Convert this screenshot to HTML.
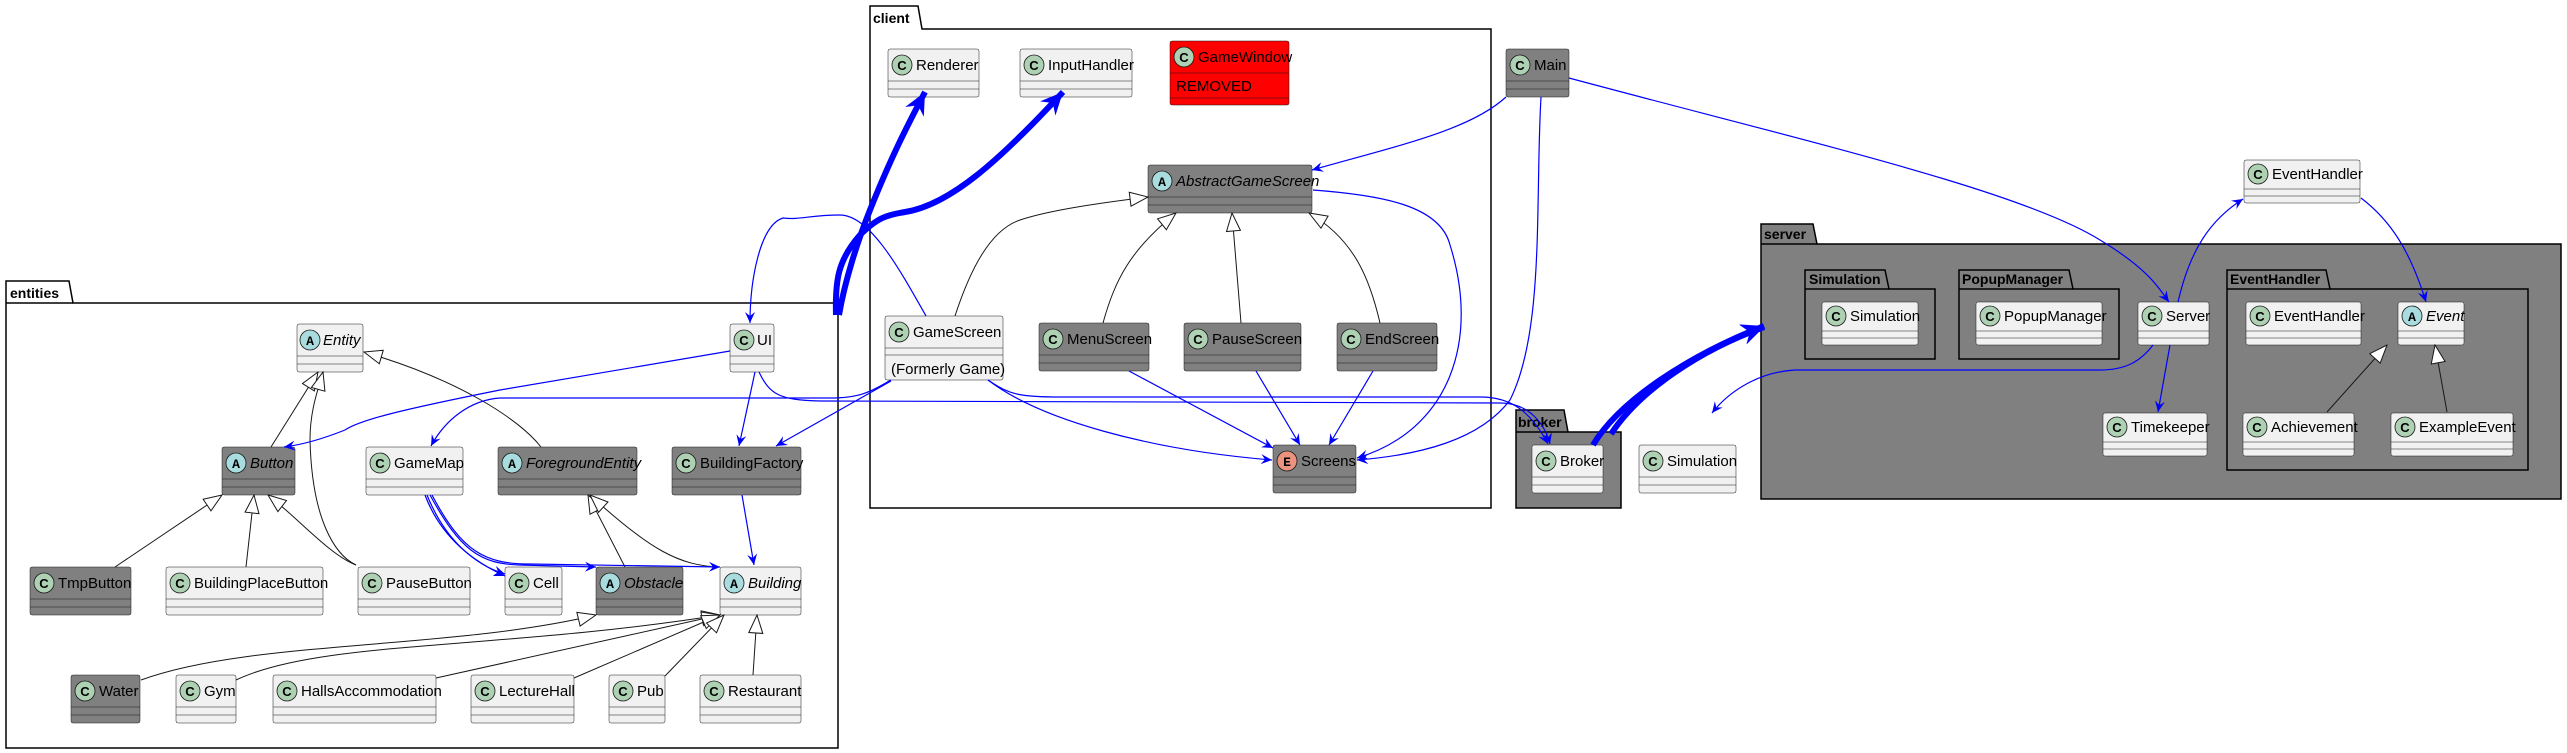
<!DOCTYPE html>
<html><head><meta charset="utf-8"><style>
html,body{margin:0;padding:0;background:#fff;}
svg{display:block;font-family:"Liberation Sans",sans-serif;}
.n{font-size:15px;fill:#000;}
.i{font-style:italic;}
.pk{font-size:15px;font-weight:bold;fill:#000;}
.bl{fill:none;stroke:#0000FF;stroke-width:1.2;}
.bk{fill:none;stroke:#181818;stroke-width:1;}
.th{fill:none;stroke:#0000FF;stroke-width:6;}
.lt{fill:#F1F1F1;stroke:#181818;stroke-width:0.5;}
.dk{fill:#808080;stroke:#181818;stroke-width:0.5;}
.sep{stroke:#181818;stroke-width:0.5;}
</style></head><body>
<svg width="2567" height="753" viewBox="0 0 2567 753" xmlns="http://www.w3.org/2000/svg">
<defs>
<marker id="ab" viewBox="0 0 12 12" refX="11" refY="6" markerWidth="12" markerHeight="12" markerUnits="userSpaceOnUse" orient="auto"><path d="M0,1 L11,6 L0,11 L4,6 Z" fill="#0000FF"/></marker>
<marker id="at" viewBox="0 0 16 16" refX="15" refY="8" markerWidth="24" markerHeight="24" markerUnits="userSpaceOnUse" orient="auto"><path d="M0,1 L15,8 L0,15 L5,8 Z" fill="#0000FF"/></marker>
<marker id="tr" viewBox="0 0 20 20" refX="19" refY="10" markerWidth="20" markerHeight="20" markerUnits="userSpaceOnUse" orient="auto"><path d="M1,3 L19,10 L1,17 Z" fill="#fff" stroke="#181818" stroke-width="1"/></marker>
</defs>

<path d="M6,303 L6,281 L69,281 L73,303 L838,303 L838,748 L6,748 Z" fill="none" stroke="#000" stroke-width="1.5"/>
<line x1="6" y1="303" x2="73" y2="303" stroke="#000" stroke-width="1.5"/>
<text x="10" y="298" class="pk" style="font-size:14px">entities</text>

<path d="M870,29 L870,6 L918,6 L922,29 L1491,29 L1491,508 L870,508 Z" fill="none" stroke="#000" stroke-width="1.5"/>
<text x="873" y="23" class="pk" style="font-size:14px">client</text>

<path d="M1516,432 L1516,410 L1564,410 L1568,432 L1621,432 L1621,508 L1516,508 Z" fill="#808080" stroke="#000" stroke-width="1.5"/>
<line x1="1516" y1="432" x2="1568" y2="432" stroke="#000" stroke-width="1.5"/>
<text x="1518" y="427" class="pk" style="font-size:14px">broker</text>

<path d="M1761,244 L1761,224 L1813,224 L1817,244 L2561,244 L2561,499 L1761,499 Z" fill="#808080" stroke="#000" stroke-width="1.5"/>
<line x1="1761" y1="244" x2="1817" y2="244" stroke="#000" stroke-width="1.5"/>
<text x="1764" y="239" class="pk" style="font-size:14px">server</text>

<path d="M1805,289 L1805,270 L1885,270 L1889,289 L1935,289 L1935,359 L1805,359 Z" fill="#808080" stroke="#000" stroke-width="1.5"/>
<line x1="1805" y1="289" x2="1889" y2="289" stroke="#000" stroke-width="1.5"/>
<text x="1809" y="284" class="pk" style="font-size:14px">Simulation</text>

<path d="M1959,289 L1959,270 L2069,270 L2073,289 L2119,289 L2119,359 L1959,359 Z" fill="#808080" stroke="#000" stroke-width="1.5"/>
<line x1="1959" y1="289" x2="2073" y2="289" stroke="#000" stroke-width="1.5"/>
<text x="1962" y="284" class="pk" style="font-size:14px">PopupManager</text>

<path d="M2227,289 L2227,270 L2326,270 L2330,289 L2528,289 L2528,470 L2227,470 Z" fill="#808080" stroke="#000" stroke-width="1.5"/>
<line x1="2227" y1="289" x2="2330" y2="289" stroke="#000" stroke-width="1.5"/>
<text x="2230" y="284" class="pk" style="font-size:14px">EventHandler</text>

<g id="classes">
<rect x="297" y="324" width="66" height="48" rx="2" class="lt"/><line x1="297" y1="356" x2="363" y2="356" class="sep"/><line x1="297" y1="364" x2="363" y2="364" class="sep"/>
<circle cx="310" cy="340" r="10" fill="#A9DCDF" stroke="#181818" stroke-width="0.8"/><text x="310" y="345" font-size="13" font-weight="bold" text-anchor="middle" font-family="Liberation Mono">A</text><text x="323" y="345" class="n i">Entity</text>
<rect x="730" y="324" width="44" height="48" rx="2" class="lt"/><line x1="730" y1="356" x2="774" y2="356" class="sep"/><line x1="730" y1="364" x2="774" y2="364" class="sep"/>
<circle cx="744" cy="340" r="10" fill="#ADD1B2" stroke="#181818" stroke-width="0.8"/><text x="744" y="345" font-size="13" font-weight="bold" text-anchor="middle">C</text><text x="757" y="345" class="n">UI</text>
<rect x="222" y="447" width="73" height="48" rx="2" class="dk"/><line x1="222" y1="479" x2="295" y2="479" class="sep"/><line x1="222" y1="487" x2="295" y2="487" class="sep"/>
<circle cx="236" cy="463" r="10" fill="#A9DCDF" stroke="#181818" stroke-width="0.8"/><text x="236" y="468" font-size="13" font-weight="bold" text-anchor="middle" font-family="Liberation Mono">A</text><text x="250" y="468" class="n i">Button</text>
<rect x="366" y="447" width="97" height="48" rx="2" class="lt"/><line x1="366" y1="479" x2="463" y2="479" class="sep"/><line x1="366" y1="487" x2="463" y2="487" class="sep"/>
<circle cx="380" cy="463" r="10" fill="#ADD1B2" stroke="#181818" stroke-width="0.8"/><text x="380" y="468" font-size="13" font-weight="bold" text-anchor="middle">C</text><text x="394" y="468" class="n">GameMap</text>
<rect x="498" y="447" width="139" height="48" rx="2" class="dk"/><line x1="498" y1="479" x2="637" y2="479" class="sep"/><line x1="498" y1="487" x2="637" y2="487" class="sep"/>
<circle cx="512" cy="463" r="10" fill="#A9DCDF" stroke="#181818" stroke-width="0.8"/><text x="512" y="468" font-size="13" font-weight="bold" text-anchor="middle" font-family="Liberation Mono">A</text><text x="526" y="468" class="n i">ForegroundEntity</text>
<rect x="672" y="447" width="129" height="48" rx="2" class="dk"/><line x1="672" y1="479" x2="801" y2="479" class="sep"/><line x1="672" y1="487" x2="801" y2="487" class="sep"/>
<circle cx="686" cy="463" r="10" fill="#ADD1B2" stroke="#181818" stroke-width="0.8"/><text x="686" y="468" font-size="13" font-weight="bold" text-anchor="middle">C</text><text x="700" y="468" class="n">BuildingFactory</text>
<rect x="30" y="567" width="101" height="48" rx="2" class="dk"/><line x1="30" y1="599" x2="131" y2="599" class="sep"/><line x1="30" y1="607" x2="131" y2="607" class="sep"/>
<circle cx="44" cy="583" r="10" fill="#ADD1B2" stroke="#181818" stroke-width="0.8"/><text x="44" y="588" font-size="13" font-weight="bold" text-anchor="middle">C</text><text x="58" y="588" class="n">TmpButton</text>
<rect x="166" y="567" width="157" height="48" rx="2" class="lt"/><line x1="166" y1="599" x2="323" y2="599" class="sep"/><line x1="166" y1="607" x2="323" y2="607" class="sep"/>
<circle cx="180" cy="583" r="10" fill="#ADD1B2" stroke="#181818" stroke-width="0.8"/><text x="180" y="588" font-size="13" font-weight="bold" text-anchor="middle">C</text><text x="194" y="588" class="n">BuildingPlaceButton</text>
<rect x="358" y="567" width="112" height="48" rx="2" class="lt"/><line x1="358" y1="599" x2="470" y2="599" class="sep"/><line x1="358" y1="607" x2="470" y2="607" class="sep"/>
<circle cx="372" cy="583" r="10" fill="#ADD1B2" stroke="#181818" stroke-width="0.8"/><text x="372" y="588" font-size="13" font-weight="bold" text-anchor="middle">C</text><text x="386" y="588" class="n">PauseButton</text>
<rect x="505" y="567" width="57" height="48" rx="2" class="lt"/><line x1="505" y1="599" x2="562" y2="599" class="sep"/><line x1="505" y1="607" x2="562" y2="607" class="sep"/>
<circle cx="519" cy="583" r="10" fill="#ADD1B2" stroke="#181818" stroke-width="0.8"/><text x="519" y="588" font-size="13" font-weight="bold" text-anchor="middle">C</text><text x="533" y="588" class="n">Cell</text>
<rect x="596" y="567" width="87" height="48" rx="2" class="dk"/><line x1="596" y1="599" x2="683" y2="599" class="sep"/><line x1="596" y1="607" x2="683" y2="607" class="sep"/>
<circle cx="610" cy="583" r="10" fill="#A9DCDF" stroke="#181818" stroke-width="0.8"/><text x="610" y="588" font-size="13" font-weight="bold" text-anchor="middle" font-family="Liberation Mono">A</text><text x="624" y="588" class="n i">Obstacle</text>
<rect x="720" y="567" width="81" height="48" rx="2" class="lt"/><line x1="720" y1="599" x2="801" y2="599" class="sep"/><line x1="720" y1="607" x2="801" y2="607" class="sep"/>
<circle cx="734" cy="583" r="10" fill="#A9DCDF" stroke="#181818" stroke-width="0.8"/><text x="734" y="588" font-size="13" font-weight="bold" text-anchor="middle" font-family="Liberation Mono">A</text><text x="748" y="588" class="n i">Building</text>
<rect x="71" y="675" width="69" height="48" rx="2" class="dk"/><line x1="71" y1="707" x2="140" y2="707" class="sep"/><line x1="71" y1="715" x2="140" y2="715" class="sep"/>
<circle cx="85" cy="691" r="10" fill="#ADD1B2" stroke="#181818" stroke-width="0.8"/><text x="85" y="696" font-size="13" font-weight="bold" text-anchor="middle">C</text><text x="99" y="696" class="n">Water</text>
<rect x="176" y="675" width="60" height="48" rx="2" class="lt"/><line x1="176" y1="707" x2="236" y2="707" class="sep"/><line x1="176" y1="715" x2="236" y2="715" class="sep"/>
<circle cx="190" cy="691" r="10" fill="#ADD1B2" stroke="#181818" stroke-width="0.8"/><text x="190" y="696" font-size="13" font-weight="bold" text-anchor="middle">C</text><text x="204" y="696" class="n">Gym</text>
<rect x="273" y="675" width="163" height="48" rx="2" class="lt"/><line x1="273" y1="707" x2="436" y2="707" class="sep"/><line x1="273" y1="715" x2="436" y2="715" class="sep"/>
<circle cx="287" cy="691" r="10" fill="#ADD1B2" stroke="#181818" stroke-width="0.8"/><text x="287" y="696" font-size="13" font-weight="bold" text-anchor="middle">C</text><text x="301" y="696" class="n">HallsAccommodation</text>
<rect x="471" y="675" width="103" height="48" rx="2" class="lt"/><line x1="471" y1="707" x2="574" y2="707" class="sep"/><line x1="471" y1="715" x2="574" y2="715" class="sep"/>
<circle cx="485" cy="691" r="10" fill="#ADD1B2" stroke="#181818" stroke-width="0.8"/><text x="485" y="696" font-size="13" font-weight="bold" text-anchor="middle">C</text><text x="499" y="696" class="n">LectureHall</text>
<rect x="609" y="675" width="56" height="48" rx="2" class="lt"/><line x1="609" y1="707" x2="665" y2="707" class="sep"/><line x1="609" y1="715" x2="665" y2="715" class="sep"/>
<circle cx="623" cy="691" r="10" fill="#ADD1B2" stroke="#181818" stroke-width="0.8"/><text x="623" y="696" font-size="13" font-weight="bold" text-anchor="middle">C</text><text x="637" y="696" class="n">Pub</text>
<rect x="700" y="675" width="101" height="48" rx="2" class="lt"/><line x1="700" y1="707" x2="801" y2="707" class="sep"/><line x1="700" y1="715" x2="801" y2="715" class="sep"/>
<circle cx="714" cy="691" r="10" fill="#ADD1B2" stroke="#181818" stroke-width="0.8"/><text x="714" y="696" font-size="13" font-weight="bold" text-anchor="middle">C</text><text x="728" y="696" class="n">Restaurant</text>

<rect x="888" y="49" width="91" height="48" rx="2" class="lt"/><line x1="888" y1="81" x2="979" y2="81" class="sep"/><line x1="888" y1="89" x2="979" y2="89" class="sep"/>
<circle cx="902" cy="65" r="10" fill="#ADD1B2" stroke="#181818" stroke-width="0.8"/><text x="902" y="70" font-size="13" font-weight="bold" text-anchor="middle">C</text><text x="916" y="70" class="n">Renderer</text>
<rect x="1020" y="49" width="112" height="48" rx="2" class="lt"/><line x1="1020" y1="81" x2="1132" y2="81" class="sep"/><line x1="1020" y1="89" x2="1132" y2="89" class="sep"/>
<circle cx="1034" cy="65" r="10" fill="#ADD1B2" stroke="#181818" stroke-width="0.8"/><text x="1034" y="70" font-size="13" font-weight="bold" text-anchor="middle">C</text><text x="1048" y="70" class="n">InputHandler</text>
<rect x="1170" y="41" width="119" height="64" rx="2" fill="#FF0000" stroke="#181818" stroke-width="0.5"/><line x1="1170" y1="73" x2="1289" y2="73" class="sep"/><line x1="1170" y1="98" x2="1289" y2="98" class="sep"/>
<circle cx="1184" cy="57" r="10" fill="#ADD1B2" stroke="#181818" stroke-width="0.8"/><text x="1184" y="62" font-size="13" font-weight="bold" text-anchor="middle">C</text><text x="1198" y="62" class="n">GameWindow</text><text x="1176" y="91" class="n">REMOVED</text>
<rect x="1506" y="49" width="63" height="48" rx="2" class="dk"/><line x1="1506" y1="81" x2="1569" y2="81" class="sep"/><line x1="1506" y1="89" x2="1569" y2="89" class="sep"/>
<circle cx="1520" cy="65" r="10" fill="#ADD1B2" stroke="#181818" stroke-width="0.8"/><text x="1520" y="70" font-size="13" font-weight="bold" text-anchor="middle">C</text><text x="1534" y="70" class="n">Main</text>
<rect x="1148" y="165" width="164" height="48" rx="2" class="dk"/><line x1="1148" y1="197" x2="1312" y2="197" class="sep"/><line x1="1148" y1="205" x2="1312" y2="205" class="sep"/>
<circle cx="1162" cy="181" r="10" fill="#A9DCDF" stroke="#181818" stroke-width="0.8"/><text x="1162" y="186" font-size="13" font-weight="bold" text-anchor="middle" font-family="Liberation Mono">A</text><text x="1176" y="186" class="n i">AbstractGameScreen</text>
<rect x="885" y="316" width="118" height="64" rx="2" class="lt"/><line x1="885" y1="348" x2="1003" y2="348" class="sep"/><line x1="885" y1="355" x2="1003" y2="355" class="sep"/>
<circle cx="899" cy="332" r="10" fill="#ADD1B2" stroke="#181818" stroke-width="0.8"/><text x="899" y="337" font-size="13" font-weight="bold" text-anchor="middle">C</text><text x="913" y="337" class="n">GameScreen</text><text x="891" y="374" class="n">(Formerly Game)</text>
<rect x="1039" y="323" width="110" height="48" rx="2" class="dk"/><line x1="1039" y1="355" x2="1149" y2="355" class="sep"/><line x1="1039" y1="363" x2="1149" y2="363" class="sep"/>
<circle cx="1053" cy="339" r="10" fill="#ADD1B2" stroke="#181818" stroke-width="0.8"/><text x="1053" y="344" font-size="13" font-weight="bold" text-anchor="middle">C</text><text x="1067" y="344" class="n">MenuScreen</text>
<rect x="1184" y="323" width="117" height="48" rx="2" class="dk"/><line x1="1184" y1="355" x2="1301" y2="355" class="sep"/><line x1="1184" y1="363" x2="1301" y2="363" class="sep"/>
<circle cx="1198" cy="339" r="10" fill="#ADD1B2" stroke="#181818" stroke-width="0.8"/><text x="1198" y="344" font-size="13" font-weight="bold" text-anchor="middle">C</text><text x="1212" y="344" class="n">PauseScreen</text>
<rect x="1337" y="323" width="100" height="48" rx="2" class="dk"/><line x1="1337" y1="355" x2="1437" y2="355" class="sep"/><line x1="1337" y1="363" x2="1437" y2="363" class="sep"/>
<circle cx="1351" cy="339" r="10" fill="#ADD1B2" stroke="#181818" stroke-width="0.8"/><text x="1351" y="344" font-size="13" font-weight="bold" text-anchor="middle">C</text><text x="1365" y="344" class="n">EndScreen</text>
<rect x="1273" y="445" width="83" height="48" rx="2" class="dk"/><line x1="1273" y1="477" x2="1356" y2="477" class="sep"/><line x1="1273" y1="485" x2="1356" y2="485" class="sep"/>
<circle cx="1287" cy="461" r="10" fill="#EB937F" stroke="#181818" stroke-width="0.8"/><text x="1287" y="466" font-size="13" font-weight="bold" text-anchor="middle" font-family="Liberation Mono">E</text><text x="1301" y="466" class="n">Screens</text>

<rect x="1532" y="445" width="71" height="48" rx="2" class="lt"/><line x1="1532" y1="477" x2="1603" y2="477" class="sep"/><line x1="1532" y1="485" x2="1603" y2="485" class="sep"/>
<circle cx="1546" cy="461" r="10" fill="#ADD1B2" stroke="#181818" stroke-width="0.8"/><text x="1546" y="466" font-size="13" font-weight="bold" text-anchor="middle">C</text><text x="1560" y="466" class="n">Broker</text>
<rect x="1639" y="445" width="97" height="48" rx="2" class="lt"/><line x1="1639" y1="477" x2="1736" y2="477" class="sep"/><line x1="1639" y1="485" x2="1736" y2="485" class="sep"/>
<circle cx="1653" cy="461" r="10" fill="#ADD1B2" stroke="#181818" stroke-width="0.8"/><text x="1653" y="466" font-size="13" font-weight="bold" text-anchor="middle">C</text><text x="1667" y="466" class="n">Simulation</text>

<rect x="2244" y="160" width="116" height="43" rx="2" class="lt"/><line x1="2244" y1="189" x2="2360" y2="189" class="sep"/><line x1="2244" y1="196" x2="2360" y2="196" class="sep"/>
<circle cx="2258" cy="174" r="10" fill="#ADD1B2" stroke="#181818" stroke-width="0.8"/><text x="2258" y="179" font-size="13" font-weight="bold" text-anchor="middle">C</text><text x="2272" y="179" class="n">EventHandler</text>
<rect x="1822" y="302" width="96" height="43" rx="2" class="lt"/><line x1="1822" y1="331" x2="1918" y2="331" class="sep"/><line x1="1822" y1="338" x2="1918" y2="338" class="sep"/>
<circle cx="1836" cy="316" r="10" fill="#ADD1B2" stroke="#181818" stroke-width="0.8"/><text x="1836" y="321" font-size="13" font-weight="bold" text-anchor="middle">C</text><text x="1850" y="321" class="n">Simulation</text>
<rect x="1976" y="302" width="126" height="43" rx="2" class="lt"/><line x1="1976" y1="331" x2="2102" y2="331" class="sep"/><line x1="1976" y1="338" x2="2102" y2="338" class="sep"/>
<circle cx="1990" cy="316" r="10" fill="#ADD1B2" stroke="#181818" stroke-width="0.8"/><text x="1990" y="321" font-size="13" font-weight="bold" text-anchor="middle">C</text><text x="2004" y="321" class="n">PopupManager</text>
<rect x="2138" y="302" width="71" height="43" rx="2" class="lt"/><line x1="2138" y1="331" x2="2209" y2="331" class="sep"/><line x1="2138" y1="338" x2="2209" y2="338" class="sep"/>
<circle cx="2152" cy="316" r="10" fill="#ADD1B2" stroke="#181818" stroke-width="0.8"/><text x="2152" y="321" font-size="13" font-weight="bold" text-anchor="middle">C</text><text x="2166" y="321" class="n">Server</text>
<rect x="2246" y="302" width="115" height="43" rx="2" class="lt"/><line x1="2246" y1="331" x2="2361" y2="331" class="sep"/><line x1="2246" y1="338" x2="2361" y2="338" class="sep"/>
<circle cx="2260" cy="316" r="10" fill="#ADD1B2" stroke="#181818" stroke-width="0.8"/><text x="2260" y="321" font-size="13" font-weight="bold" text-anchor="middle">C</text><text x="2274" y="321" class="n">EventHandler</text>
<rect x="2398" y="302" width="66" height="43" rx="2" class="lt"/><line x1="2398" y1="331" x2="2464" y2="331" class="sep"/><line x1="2398" y1="338" x2="2464" y2="338" class="sep"/>
<circle cx="2412" cy="316" r="10" fill="#A9DCDF" stroke="#181818" stroke-width="0.8"/><text x="2412" y="321" font-size="13" font-weight="bold" text-anchor="middle" font-family="Liberation Mono">A</text><text x="2426" y="321" class="n i">Event</text>
<rect x="2103" y="413" width="104" height="43" rx="2" class="lt"/><line x1="2103" y1="442" x2="2207" y2="442" class="sep"/><line x1="2103" y1="449" x2="2207" y2="449" class="sep"/>
<circle cx="2117" cy="427" r="10" fill="#ADD1B2" stroke="#181818" stroke-width="0.8"/><text x="2117" y="432" font-size="13" font-weight="bold" text-anchor="middle">C</text><text x="2131" y="432" class="n">Timekeeper</text>
<rect x="2243" y="413" width="111" height="43" rx="2" class="lt"/><line x1="2243" y1="442" x2="2354" y2="442" class="sep"/><line x1="2243" y1="449" x2="2354" y2="449" class="sep"/>
<circle cx="2257" cy="427" r="10" fill="#ADD1B2" stroke="#181818" stroke-width="0.8"/><text x="2257" y="432" font-size="13" font-weight="bold" text-anchor="middle">C</text><text x="2271" y="432" class="n">Achievement</text>
<rect x="2391" y="413" width="122" height="43" rx="2" class="lt"/><line x1="2391" y1="442" x2="2513" y2="442" class="sep"/><line x1="2391" y1="449" x2="2513" y2="449" class="sep"/>
<circle cx="2405" cy="427" r="10" fill="#ADD1B2" stroke="#181818" stroke-width="0.8"/><text x="2405" y="432" font-size="13" font-weight="bold" text-anchor="middle">C</text><text x="2419" y="432" class="n">ExampleEvent</text>
</g>

<path class="bk" marker-end="url(#tr)" d="M271,447 L318,372"/>
<path class="bk" marker-end="url(#tr)" d="M356,565 C335,555 312,520 310,440 C310,410 318,390 323,372"/>
<path class="bk" marker-end="url(#tr)" d="M541,447 C520,420 460,380 364,352"/>
<path class="bk" marker-end="url(#tr)" d="M115,567 L222,495"/>
<path class="bk" marker-end="url(#tr)" d="M246,567 L254,495"/>
<path class="bk" marker-end="url(#tr)" d="M356,565 C330,555 300,520 268,495"/>
<path class="bk" marker-end="url(#tr)" d="M625,567 L588,495"/>
<path class="bk" marker-end="url(#tr)" d="M720,567 C680,566 650,550 590,495"/>
<path class="bk" marker-end="url(#tr)" d="M141,680 C250,640 450,650 596,615"/>
<path class="bk" marker-end="url(#tr)" d="M236,680 C320,640 500,650 720,615"/>
<path class="bk" marker-end="url(#tr)" d="M436,678 L720,615"/>
<path class="bk" marker-end="url(#tr)" d="M574,678 L720,615"/>
<path class="bk" marker-end="url(#tr)" d="M665,676 L724,615"/>
<path class="bk" marker-end="url(#tr)" d="M753,675 L757,615"/>
<path class="bk" marker-end="url(#tr)" d="M955,316 C970,270 990,230 1020,220 C1050,210 1100,203 1148,197"/>
<path class="bk" marker-end="url(#tr)" d="M1103,323 C1115,280 1130,250 1176,213"/>
<path class="bk" marker-end="url(#tr)" d="M1241,323 L1232,213"/>
<path class="bk" marker-end="url(#tr)" d="M1380,323 C1370,280 1355,240 1309,213"/>
<path class="bk" marker-end="url(#tr)" d="M2327,412 L2387,345"/>
<path class="bk" marker-end="url(#tr)" d="M2447,412 L2435,345"/>

<path class="th" marker-end="url(#at)" d="M836,315 C835,280 838,260 860,235 C880,215 890,215 905,212 C950,205 1000,160 1063,92"/>
<path class="th" marker-end="url(#at)" d="M839,315 C845,280 858,240 870,210 C890,160 905,130 925,92"/>
<path class="th" marker-end="url(#at)" d="M1593,445 C1620,400 1690,355 1764,326"/>
<path class="th" marker-end="url(#at)" d="M1611,434 C1640,390 1700,350 1764,327"/>

<path class="bl" marker-end="url(#ab)" d="M926,316 C900,270 870,215 840,215 C810,215 800,220 783,218 C760,225 750,280 750,323"/>
<path class="bl" marker-end="url(#ab)" d="M730,351 L500,390 C400,410 360,420 345,430 C320,440 300,445 284,447"/>
<path class="bl" marker-end="url(#ab)" d="M755,372 L739,446"/>
<path class="bl" marker-end="url(#ab)" d="M759,372 C770,395 780,400 820,401 L1500,403 C1530,403 1545,425 1550,444"/>
<path class="bl" marker-end="url(#ab)" d="M891,380 C870,392 860,398 830,398 L500,398 C470,400 445,420 431,446"/>
<path class="bl" marker-end="url(#ab)" d="M891,381 L776,446"/>
<path class="bl" marker-end="url(#ab)" d="M988,380 C1010,395 1020,397 1060,397 L1480,397 C1510,397 1530,410 1548,444"/>
<path class="bl" marker-end="url(#ab)" d="M988,380 C1040,420 1150,450 1272,460"/>
<path class="bl" marker-end="url(#ab)" d="M1129,371 L1273,448"/>
<path class="bl" marker-end="url(#ab)" d="M1256,371 L1300,445"/>
<path class="bl" marker-end="url(#ab)" d="M1373,371 L1329,445"/>
<path class="bl" marker-end="url(#ab)" d="M1313,190 C1380,195 1440,205 1450,245 C1480,340 1450,430 1357,458"/>
<path class="bl" marker-end="url(#ab)" d="M1541,97 C1535,200 1545,330 1510,400 C1480,440 1420,455 1357,460"/>
<path class="bl" marker-end="url(#ab)" d="M1506,97 C1470,130 1400,145 1312,170"/>
<path class="bl" marker-end="url(#ab)" d="M1569,78 C1800,140 2020,190 2100,240 C2150,270 2160,290 2169,302"/>
<path class="bl" marker-end="url(#ab)" d="M2178,302 C2190,250 2210,220 2243,199"/>
<path class="bl" marker-end="url(#ab)" d="M2361,198 C2390,220 2410,250 2426,302"/>
<path class="bl" marker-end="url(#ab)" d="M2153,345 C2140,362 2125,370 2100,370 L1795,370 C1760,372 1730,390 1712,413"/>
<path class="bl" marker-end="url(#ab)" d="M2170,345 L2158,412"/>
<path class="bl" marker-end="url(#ab)" d="M425,495 C440,535 470,560 505,576"/>
<path class="bl" marker-end="url(#ab)" d="M427,495 C445,540 475,565 505,574"/>
<path class="bl" marker-end="url(#ab)" d="M430,495 C460,550 480,564 520,565 L596,567"/>
<path class="bl" marker-end="url(#ab)" d="M432,495 C462,552 485,564 530,564 L720,567"/>
<path class="bl" marker-end="url(#ab)" d="M742,495 L754,565"/>
</svg>
</body></html>
